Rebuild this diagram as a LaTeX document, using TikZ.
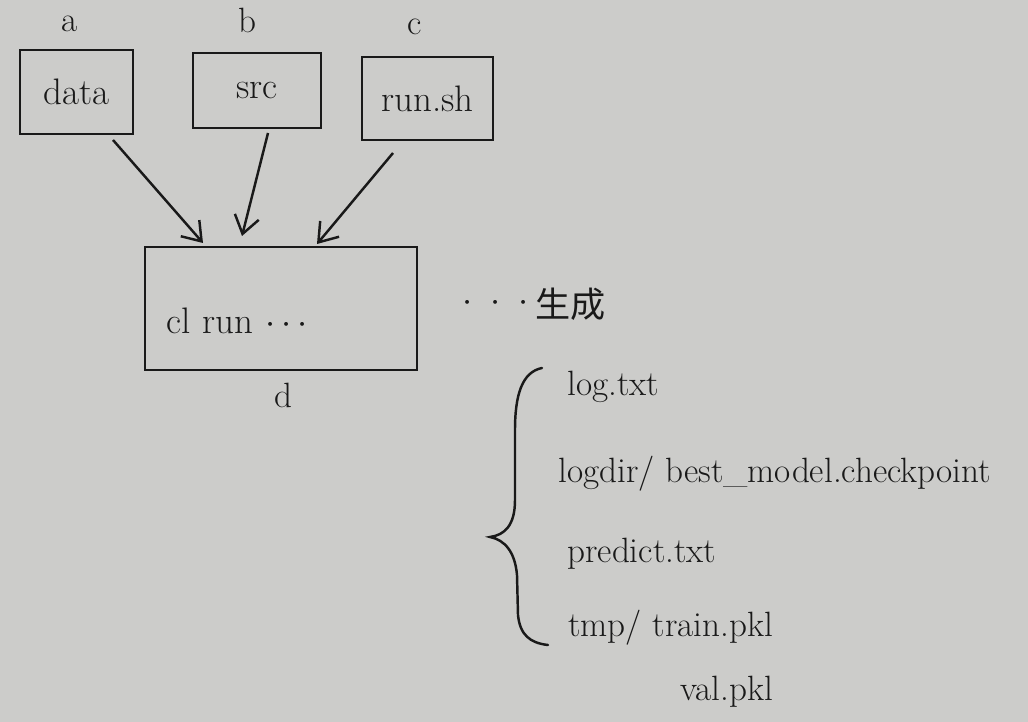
\documentclass[tikz,border=0pt]{standalone}
\usepackage{fontspec}
\newfontfamily\cjk{Noto Sans CJK SC}
\usetikzlibrary{arrows.meta,calc}
\definecolor{paper}{RGB}{204,204,202}
\definecolor{ink}{RGB}{25,25,25}
\begin{document}
\begin{tikzpicture}[x=0.02cm,y=-0.02cm,
  box/.style={draw=ink,line width=1.5pt,inner sep=0pt,text=ink,font=\fontsize{21}{25}\selectfont},
  lbl/.style={text=ink,inner sep=0pt,font=\fontsize{20}{24}\selectfont},
  arr/.style={draw=ink,line width=1.4pt,-{Straight Barb[length=10pt,width=14pt,line width=1.4pt]}},
  item/.style={anchor=base west,text=ink,inner sep=0pt,font=\fontsize{20}{24}\selectfont}]
\fill[paper] (0,0) rectangle (1028,722);
\useasboundingbox (0,0) rectangle (1028,722);
% input boxes
\node[box,minimum width=2.26cm,minimum height=1.68cm] (data) at (76.5,92) {data};
\node[box,minimum width=2.56cm,minimum height=1.5cm] (src) at (257,90.5) {src};
\node[box,minimum width=2.62cm,minimum height=1.66cm] (run) at (427.5,98.5) {run.sh};
\node[lbl] (la) at (70,24) {a};
\node[lbl] (lb) at (247,20) {b};
\node[lbl] (lc) at (415,27) {c};
% command box
\node[box,minimum width=5.44cm,minimum height=2.46cm,text width=4.6cm,align=left] (d) at (281,308.5) {\raisebox{-0.24cm}[\height][\depth]{cl run $\cdots$}};
\node[lbl] (ld) at (283,395) {d};
% arrows
\coordinate (a1) at (113,140);
\coordinate (a2) at (203,243);
\coordinate (b1) at (268,133);
\coordinate (b2) at (242,236);
\coordinate (c1) at (393,153);
\coordinate (c2) at (317,244);
\draw[arr] (a1) -- (a2);
\draw[arr] (b1) -- (b2);
\draw[arr] (c1) -- (c2);
% generate
\node[text=ink,inner sep=0pt,anchor=west,font=\fontsize{20}{24}\selectfont] (gen) at (462,304) {\raisebox{3pt}{$\cdot\;\cdot\;\cdot$}\,{\cjk\fontsize{20}{24}\selectfont 生成}};
% brace
\draw[ink,line width=1.4pt,line cap=round] (542,368) .. controls (522,372) and (515,395) .. (515,430) -- (515,500) .. controls (515,525) and (505,535) .. (490,537) .. controls (505,540) and (515,552) .. (517,575) -- (518,615) .. controls (520,635) and (530,643) .. (548,645);
% outputs
\node[item] (o1) at (567,396) {log.txt};
\node[item] (o2) at (558,483) {logdir/ best\_model.checkpoint};
\node[item] (o3) at (567,563) {predict.txt};
\node[item] (o4) at (568,637) {tmp/ train.pkl};
\node[item] (o5) at (680,700) {val.pkl};
\end{tikzpicture}
\end{document}
